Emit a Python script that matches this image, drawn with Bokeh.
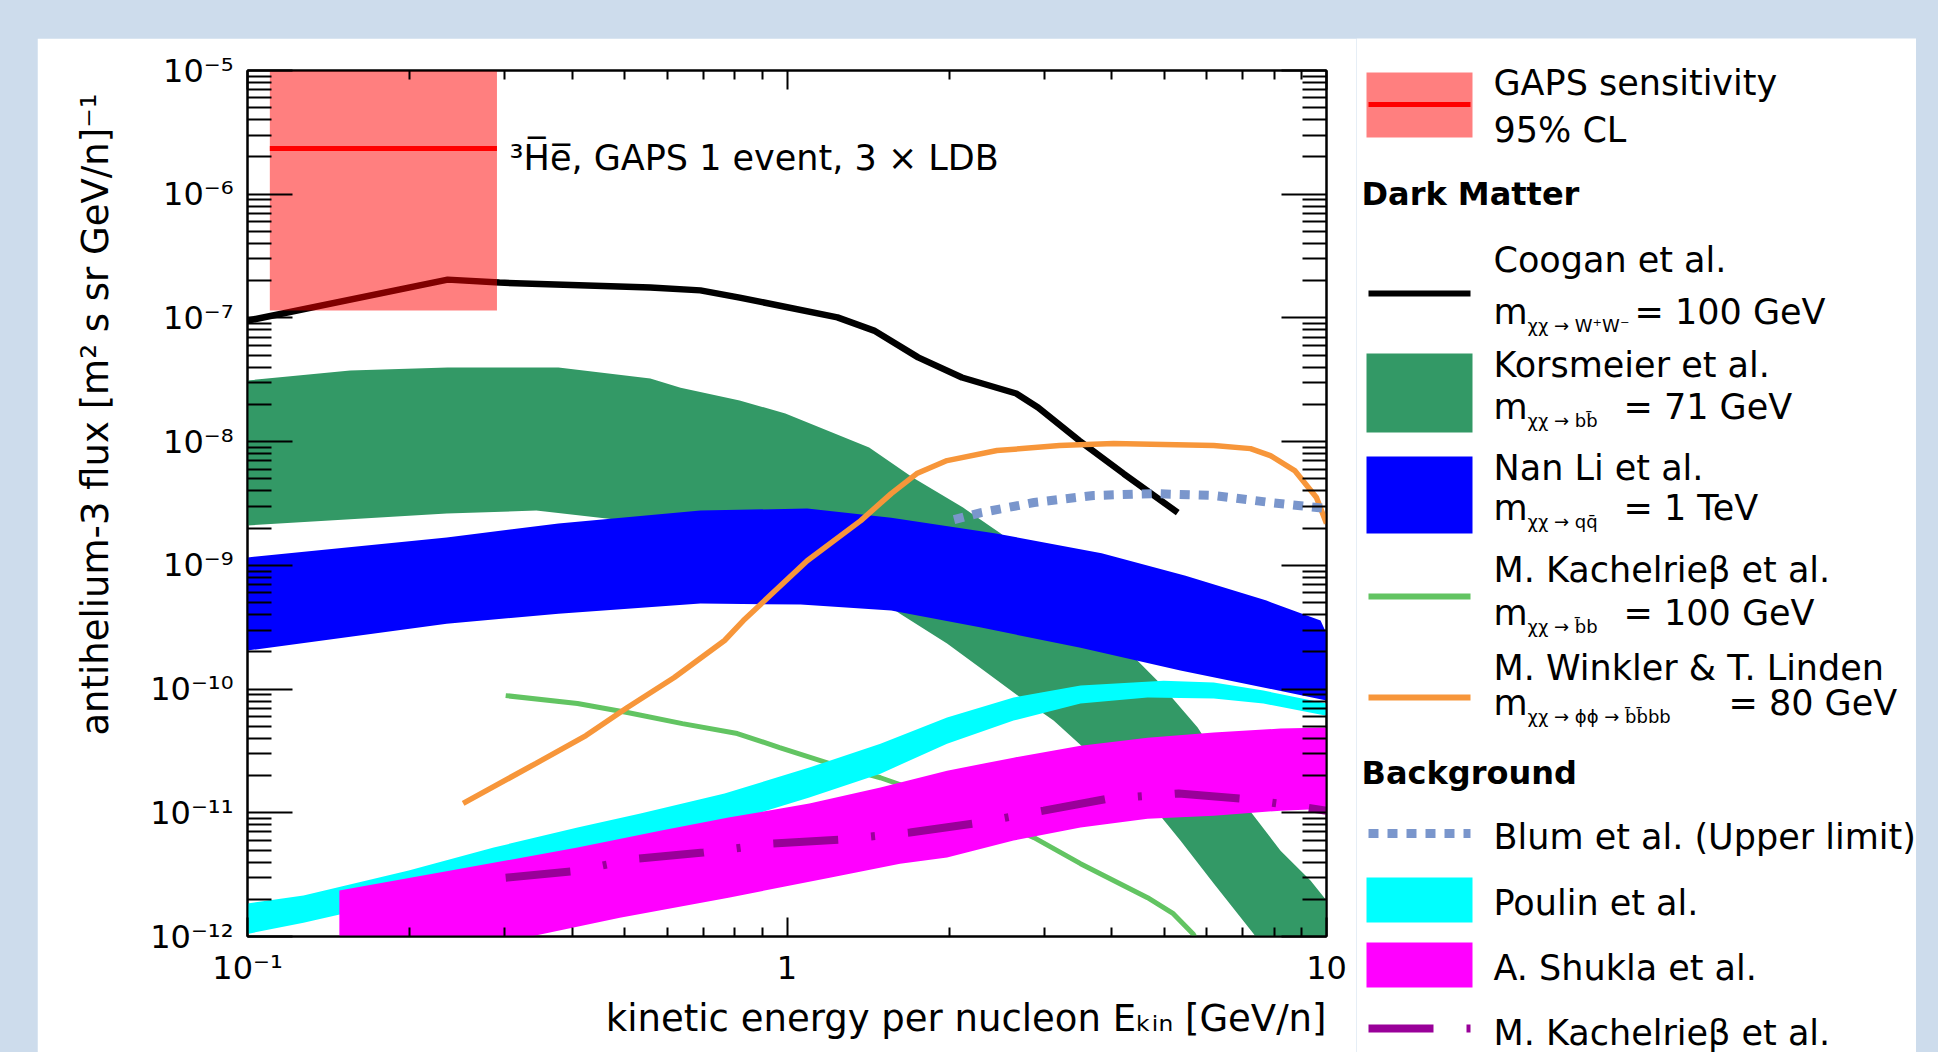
from bokeh.plotting import figure
from bokeh.models import Range1d, LogAxis, FixedTicker, Label, Spacer, Title
from bokeh.layouts import row, column
from bokeh.embed import file_html
from bokeh.resources import INLINE
from bokeh.core.properties import value

FONT = "DejaVu Sans"

# ---------------- data (kinetic energy per nucleon [GeV/n], flux) ----------------
# GAPS sensitivity, 1 event, 3 x LDB (95% CL band + central value)
gaps_energy = [0.11, 0.29]
gaps_flux = 2.34e-6
gaps_flux_low = 1.15e-7
gaps_flux_high = 1.17e-5

# Coogan et al., chi chi -> W+W-, 100 GeV
coogan_E = [0.1, 0.235, 0.293, 0.558, 0.691, 0.817, 1.24, 1.45, 1.75, 2.11, 2.66, 2.92, 3.48, 4.21, 5.30]
coogan_F = [9.5e-8, 2.04e-7, 1.93e-7, 1.76e-7, 1.67e-7, 1.46e-7, 1.01e-7, 7.9e-8, 4.8e-8, 3.3e-8,
            2.45e-8, 1.89e-8, 1.02e-8, 5.5e-9, 2.67e-9]

# Korsmeier et al. band, chi chi -> b bbar, 71 GeV
kors_up_E = [0.1, 0.155, 0.235, 0.377, 0.558, 0.635, 0.817, 0.993, 1.42, 1.71, 2.12, 2.49, 3.28, 4.33,
             4.86, 5.77, 6.44, 7.14, 8.22, 9.34, 10.0]
kors_up_F = [3.12e-8, 3.76e-8, 3.97e-8, 3.97e-8, 3.24e-8, 2.73e-8, 2.15e-8, 1.69e-8, 8.96e-9, 5.12e-9,
             2.93e-9, 1.81e-9, 6.5e-10, 1.94e-10, 1.17e-10, 4.89e-11, 2.32e-11, 1.10e-11, 4.94e-12,
             2.83e-12, 1.95e-12]
kors_lo_E = [0.1, 0.234, 0.343, 0.558, 0.817, 0.993, 1.42, 1.62, 1.98, 2.28, 2.71, 3.12, 3.77, 4.66,
             5.36, 6.18, 7.33, 8.5, 10.0]
kors_lo_F = [2.1e-9, 2.62e-9, 2.77e-9, 2.18e-9, 1.45e-9, 1.13e-9, 6.03e-10, 4.07e-10, 2.33e-10, 1.49e-10,
             8.54e-11, 5.56e-11, 2.64e-11, 1.26e-11, 5.96e-12, 2.68e-12, 1.05e-12, 4.0e-13, 1.5e-13]

# Nan Li et al. band, chi chi -> q qbar, 1 TeV
nanli_up_E = [0.1, 0.234, 0.377, 0.691, 1.09, 1.56, 2.44, 3.83, 5.48, 7.74, 9.75, 10.0]
nanli_up_F = [1.16e-9, 1.68e-9, 2.18e-9, 2.77e-9, 2.88e-9, 2.43e-9, 1.81e-9, 1.25e-9, 8.26e-10,
              5.19e-10, 3.58e-10, 2.81e-10]
nanli_lo_E = [0.1, 0.234, 0.377, 0.691, 1.06, 1.56, 2.29, 3.50, 5.36, 7.64, 10.0]
nanli_lo_F = [2.05e-10, 3.38e-10, 4.07e-10, 4.91e-10, 4.82e-10, 4.31e-10, 3.14e-10, 2.16e-10,
              1.41e-10, 1.03e-10, 8.07e-11]

# M. Kachelriess et al. (dark matter), chi chi -> bbar b, 100 GeV
kach_dm_E = [0.301, 0.409, 0.506, 0.640, 0.809, 0.969, 1.20, 1.49, 2.10, 2.87, 3.50, 4.66, 5.20, 5.66, 5.85]
kach_dm_F = [8.85e-11, 7.64e-11, 6.46e-11, 5.26e-11, 4.37e-11, 3.37e-11, 2.50e-11, 1.92e-11, 1.14e-11,
             6.30e-12, 3.88e-12, 2.06e-12, 1.53e-12, 1.05e-12, 8.0e-13]

# M. Winkler & T. Linden, chi chi -> phi phi -> bbar bbar b b, 80 GeV
winkler_E = [0.251, 0.342, 0.424, 0.506, 0.618, 0.766, 0.830, 1.09, 1.37, 1.56, 1.74, 1.98, 2.45, 3.20,
             4.03, 6.18, 7.23, 7.87, 8.73, 9.58, 10.0]
winkler_F = [1.19e-11, 2.50e-11, 4.21e-11, 7.1e-11, 1.24e-10, 2.47e-10, 3.58e-10, 1.09e-9, 2.30e-9,
             3.80e-9, 5.52e-9, 7.03e-9, 8.47e-9, 9.29e-9, 9.65e-9, 9.29e-9, 8.78e-9, 7.72e-9, 5.84e-9,
             3.53e-9, 2.18e-9]

# Blum et al. (upper limit)
blum_E = [2.04, 2.29, 2.87, 3.70, 4.78, 6.18, 7.88, 10.0]
blum_F = [2.34e-9, 2.67e-9, 3.22e-9, 3.67e-9, 3.80e-9, 3.67e-9, 3.22e-9, 2.88e-9]

# Poulin et al. band
poulin_up_E = [0.1, 0.127, 0.199, 0.286, 0.409, 0.535, 0.766, 1.10, 1.49, 1.98, 2.63, 3.50, 4.99, 6.18, 7.64, 10.0]
poulin_up_F = [1.85e-12, 2.14e-12, 3.41e-12, 5.24e-12, 7.59e-12, 9.86e-12, 1.43e-11, 2.32e-11, 3.62e-11,
               5.88e-11, 8.54e-11, 1.07e-10, 1.17e-10, 1.13e-10, 9.72e-11, 7.64e-11]
poulin_lo_E = [0.1, 0.127, 0.199, 0.286, 0.409, 0.535, 0.766, 1.10, 1.49, 1.98, 2.63, 3.50, 4.66, 6.18, 7.64, 10.0]
poulin_lo_F = [1.05e-12, 1.29e-12, 2.02e-12, 2.99e-12, 4.35e-12, 5.64e-12, 8.18e-12, 1.33e-11, 2.07e-11,
               3.62e-11, 5.56e-11, 7.64e-11, 8.54e-11, 8.38e-11, 7.64e-11, 6.1e-11]

# A. Shukla et al. band
shukla_up_E = [0.148, 0.238, 0.409, 0.585, 0.779, 1.10, 1.49, 1.98, 2.63, 3.50, 4.66, 6.18, 8.22, 10.0]
shukla_up_F = [2.35e-12, 3.41e-12, 5.24e-12, 7.18e-12, 9.14e-12, 1.19e-11, 1.60e-11, 2.19e-11, 2.79e-11,
               3.49e-11, 4.05e-11, 4.45e-11, 4.80e-11, 4.89e-11]
shukla_lo_E = [0.148, 0.342, 0.490, 0.779, 1.20, 1.62, 1.98, 2.63, 3.50, 4.66, 6.18, 8.22, 10.0]
shukla_lo_F = [4.7e-13, 1.02e-12, 1.42e-12, 2.06e-12, 2.99e-12, 3.88e-12, 4.35e-12, 5.96e-12, 7.59e-12,
               8.97e-12, 9.48e-12, 1.04e-11, 1.08e-11]

# M. Kachelriess et al. (background)
kach_bg_E = [0.301, 0.397, 0.531, 0.700, 0.940, 1.25, 1.69, 2.22, 2.99, 3.93, 5.32, 6.99, 8.11, 10.0]
kach_bg_F = [2.99e-12, 3.35e-12, 4.27e-12, 4.77e-12, 5.64e-12, 6.07e-12, 6.92e-12, 8.18e-12, 1.04e-11,
             1.30e-11, 1.43e-11, 1.30e-11, 1.19e-11, 1.04e-11]

# axis ticks and labels
x_major_ticks = [0.1, 1.0, 10.0]
x_major_labels = ["10⁻¹", "1", "10"]
y_major_ticks = [1e-12, 1e-11, 1e-10, 1e-9, 1e-8, 1e-7, 1e-6, 1e-5]
y_major_labels = ["10⁻¹²", "10⁻¹¹", "10⁻¹⁰", "10⁻⁹", "10⁻⁸", "10⁻⁷", "10⁻⁶", "10⁻⁵"]
x_minor_ticks = [k * d for d in x_major_ticks[:-1] for k in range(2, 10)]
y_minor_ticks = [k * d for d in y_major_ticks[:-1] for k in range(2, 10)]
x_title = "kinetic energy per nucleon Eₖᵢₙ [GeV/n]"
y_title = "antihelium-3 flux [m² s sr GeV/n]⁻¹"

# colours
C_GAPS = "#FF0000"
C_COOGAN = "#000000"
C_KORS = "#339966"
C_NANLI = "#0000FF"
C_KACH_DM = "#62C462"
C_WINKLER = "#F7963A"
C_BLUM = "#7A96CC"
C_POULIN = "#00FFFF"
C_SHUKLA = "#FF00FF"
C_KACH_BG = "#990099"
PAGE_BG = "#CDDCEC"

DOT = "10 9"
DASHDOT = "65 33 4 33"


def band(xu, yu, xl, yl):
    return list(xu) + list(xl)[::-1], list(yu) + list(yl)[::-1]


# ---------------- main plot ----------------
PAD_L, PAD_T = 37, 38
MAIN_W = 1319
FIG_H = 1014

p = figure(x_axis_type="log", y_axis_type="log",
           x_range=Range1d(0.1, 10.0), y_range=Range1d(1e-12, 1e-5),
           frame_width=1079, frame_height=866,
           min_border_left=210, min_border_right=30, min_border_top=32, min_border_bottom=116,
           output_backend="svg", toolbar_location=None,
           border_fill_color="white", background_fill_color="white",
           outline_line_color="black", outline_line_width=2)
p.xgrid.visible = False
p.ygrid.visible = False

bx, by = band(kors_up_E, kors_up_F, kors_lo_E, kors_lo_F)
p.patch(bx, by, fill_color=C_KORS, line_color=None)
bx, by = band(nanli_up_E, nanli_up_F, nanli_lo_E, nanli_lo_F)
p.patch(bx, by, fill_color=C_NANLI, line_color=None)
p.line(kach_dm_E, kach_dm_F, line_color=C_KACH_DM, line_width=5)
p.line(coogan_E, coogan_F, line_color=C_COOGAN, line_width=6.5)
p.line(winkler_E, winkler_F, line_color=C_WINKLER, line_width=5.5)
p.line(blum_E, blum_F, line_color=C_BLUM, line_width=9, line_dash=DOT)
bx, by = band(poulin_up_E, poulin_up_F, poulin_lo_E, poulin_lo_F)
p.patch(bx, by, fill_color=C_POULIN, line_color=None)
bx, by = band(shukla_up_E, shukla_up_F, shukla_lo_E, shukla_lo_F)
p.patch(bx, by, fill_color=C_SHUKLA, line_color=None)
p.line(kach_bg_E, kach_bg_F, line_color=C_KACH_BG, line_width=8, line_dash=DASHDOT)
p.quad(left=[gaps_energy[0]], right=[gaps_energy[1]], bottom=[gaps_flux_low], top=[gaps_flux_high],
       fill_color=C_GAPS, fill_alpha=0.5, line_color=None)
p.line(gaps_energy, [gaps_flux, gaps_flux], line_color=C_GAPS, line_width=5)

p.add_layout(Label(x=0.306, y=1.98e-6, text="³H̅e̅, GAPS 1 event, 3 × LDB",
                   text_font=FONT, text_font_size="35px", text_baseline="alphabetic",
                   text_color="black"))

xax = p.xaxis[0]
yax = p.yaxis[0]
top_ax = LogAxis()
right_ax = LogAxis()
p.add_layout(top_ax, "above")
p.add_layout(right_ax, "right")

for ax in (xax, top_ax):
    ax.ticker = FixedTicker(ticks=x_major_ticks, minor_ticks=x_minor_ticks)
    ax.major_tick_in = 19
    ax.minor_tick_in = 9
for ax in (yax, right_ax):
    ax.ticker = FixedTicker(ticks=y_major_ticks, minor_ticks=y_minor_ticks)
    ax.major_tick_in = 45
    ax.minor_tick_in = 24
for ax in (xax, yax, top_ax, right_ax):
    ax.major_tick_out = 0
    ax.minor_tick_out = 0
    ax.axis_line_color = "black"
    ax.axis_line_width = 2
    ax.major_tick_line_color = "black"
    ax.major_tick_line_width = 2
    ax.minor_tick_line_color = "black"
    ax.minor_tick_line_width = 2
    ax.major_label_text_font = FONT
    ax.major_label_text_font_size = "32px"
    ax.major_label_text_color = "black"

xax.major_label_overrides = dict(zip(x_major_ticks, x_major_labels))
yax.major_label_overrides = dict(zip(y_major_ticks, y_major_labels))
top_ax.major_label_overrides = {t: "" for t in x_major_ticks}
right_ax.major_label_overrides = {t: "" for t in y_major_ticks}
top_ax.major_label_text_color = None
right_ax.major_label_text_color = None
xax.major_label_standoff = 12
yax.major_label_standoff = 14

# axis titles, right/top aligned as in the original (ROOT style)
x_t = Title(text=x_title, align="right", text_font=FONT, text_font_size="37px",
            text_font_style="normal", text_color="black")
y_t = Title(text=y_title, align="right", offset=23, text_font=FONT, text_font_size="37px",
            text_font_style="normal", text_color="black")
if "standoff" in y_t.properties():
    y_t.standoff = 62
p.add_layout(x_t, "below")
p.add_layout(y_t, "left")

# ---------------- legend panel ----------------
LX0, LY0 = PAD_L + MAIN_W, PAD_T          # page position of the legend panel
LW, LH = 560, FIG_H
leg = figure(width=LW, height=LH, x_range=Range1d(0, LW), y_range=Range1d(LH, 0),
             x_axis_location=None, y_axis_location=None,
             output_backend="svg", toolbar_location=None, min_border=0,
             outline_line_color=None, background_fill_color="white", border_fill_color="white")
leg.grid.visible = False

for fig in (p, leg):
    if "frame_align" in fig.properties():
        fig.frame_align = False

SW_L, SW_R = 1368, 1470
BOX_L, BOX_R = 1366, 1472
TX = 1493
TEXT_DY = -11   # text anchor shift so that the glyphs sit on the reference baselines


def ltext(x, y, s, size="35px", bold=False):
    leg.text(x=[x - LX0], y=[y - LY0 + TEXT_DY], text=[s], text_font=value(FONT), text_font_size=size,
             text_font_style="bold" if bold else "normal", text_baseline="alphabetic",
             text_align="left", text_color="black")


def lbox(y0, y1, color, alpha=1.0):
    leg.quad(left=[BOX_L - LX0], right=[BOX_R - LX0], top=[y0 - LY0], bottom=[y1 - LY0],
             fill_color=color, fill_alpha=alpha, line_color=None)


def lline(y, color, width, dash="solid"):
    leg.line([SW_L - LX0, SW_R - LX0], [y - LY0, y - LY0], line_color=color, line_width=width,
             line_dash=dash)


def mass(y, sub, rest, xrest):
    ltext(TX, y, "m")
    ltext(TX + 34, y + 14, sub, size="18px")
    ltext(xrest, y, rest)


lbox(72, 137, C_GAPS, 0.5)
lline(104, C_GAPS, 5)
ltext(TX, 93, "GAPS sensitivity")
ltext(TX, 140, "95% CL")

ltext(1361, 204, "Dark Matter", size="32px", bold=True)

lline(293, C_COOGAN, 6)
ltext(TX, 270, "Coogan et al.")
mass(322, "χχ → W⁺W⁻", "= 100 GeV", 1634)

lbox(353, 432, C_KORS)
ltext(TX, 375, "Korsmeier et al.")
mass(417, "χχ → bb̄", "= 71 GeV", 1623)

lbox(456, 533, C_NANLI)
ltext(TX, 478, "Nan Li et al.")
mass(518, "χχ → qq̄", "= 1 TeV", 1623)

lline(596, C_KACH_DM, 6)
ltext(TX, 580, "M. Kachelrieβ et al.")
mass(623, "χχ → b̄b", "= 100 GeV", 1623)

lline(697, C_WINKLER, 6)
ltext(TX, 678, "M. Winkler & T. Linden")
mass(713, "χχ → ϕϕ → b̄b̄bb", "= 80 GeV", 1728)

ltext(1361, 783, "Background", size="32px", bold=True)

lline(833, C_BLUM, 9, DOT)
ltext(TX, 847, "Blum et al. (Upper limit)")

lbox(877, 922, C_POULIN)
ltext(TX, 913, "Poulin et al.")

lbox(942, 987, C_SHUKLA)
ltext(TX, 978, "A. Shukla et al.")

lline(1028, C_KACH_BG, 8, DASHDOT)
ltext(TX, 1043, "M. Kachelrieβ et al.")

# ---------------- page layout ----------------
PAGE_W = 1938
layout = column(
    Spacer(width=PAGE_W, height=PAD_T),
    row(Spacer(width=PAD_L, height=FIG_H), p, column(leg),
        Spacer(width=PAGE_W - PAD_L - MAIN_W - LW, height=FIG_H)),
    styles={"background-color": PAGE_BG},
)

open("out.html", "w").write(file_html(layout, INLINE))
